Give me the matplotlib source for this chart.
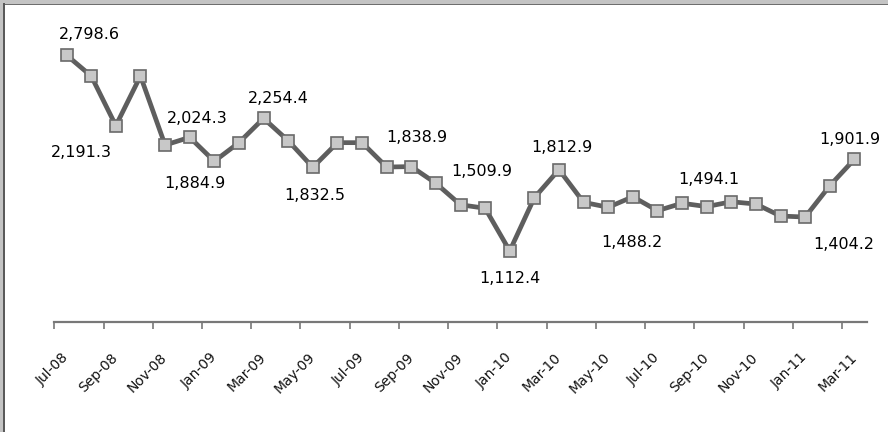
import numpy as np
import matplotlib
matplotlib.use("Agg")
import matplotlib.pyplot as plt
from matplotlib.patches import Rectangle

# ---- data ----
months = ["Jul-08", "Aug-08", "Sep-08", "Oct-08", "Nov-08", "Dec-08",
          "Jan-09", "Feb-09", "Mar-09", "Apr-09", "May-09", "Jun-09",
          "Jul-09", "Aug-09", "Sep-09", "Oct-09", "Nov-09", "Dec-09",
          "Jan-10", "Feb-10", "Mar-10", "Apr-10", "May-10", "Jun-10",
          "Jul-10", "Aug-10", "Sep-10", "Oct-10", "Nov-10", "Dec-10",
          "Jan-11", "Feb-11", "Mar-11"]
values = [2798.6, 2619.0, 2191.3, 2619.0, 2024.3, 2091.0,
          1884.9, 2045.0, 2254.4, 2062.0, 1832.5, 2045.0,
          2045.0, 1835.0, 1838.9, 1695.0, 1509.9, 1480.0,
          1112.4, 1571.0, 1812.9, 1531.0, 1488.2, 1579.0,
          1459.0, 1523.0, 1494.1, 1536.0, 1516.0, 1413.0,
          1404.2, 1674.0, 1901.9]
tick_labels = months[::2]
labeled_idx = [0, 2, 4, 6, 8, 10, 14, 16, 18, 20, 22, 26, 30, 32]

# label offsets in pixels (dx right, dy down) relative to the point
label_offsets = [(23, -21), (-34, 27), (32, -27), (-19, 22), (15, -20),
                 (2, 28), (6, -29), (21, -33), (0, 28), (3, -22),
                 (24, 35), (2, -27), (39, 27), (-5, -20)]

W, H = 888, 432
fig = plt.figure(figsize=(W / 100, H / 100), dpi=100)
fig.patch.set_facecolor("white")

ax_left, ax_right = 54.3, 866.7
ax_bottom, ax_top = 322.0, 31.8
ax = fig.add_axes([ax_left / W, (H - ax_bottom) / H,
                   (ax_right - ax_left) / W, (ax_bottom - ax_top) / H])

x = np.arange(len(values)) + 0.5
ax.plot(x, values, color="#5e5e5e", lw=3.4, marker="s", markersize=8,
        markerfacecolor="#c8c8c8", markeredgecolor="#6a6a6a",
        markeredgewidth=1.2, zorder=3, clip_on=False)

ax.set_xlim(0, len(values))
ax.set_ylim(500, 3000)

for s in ["left", "right", "top"]:
    ax.spines[s].set_visible(False)
ax.spines["bottom"].set_color("#787878")
ax.spines["bottom"].set_linewidth(1.6)

ax.set_yticks([])
ax.set_xticks(np.arange(0, len(values), 2) + 0.5)
ax.set_xticklabels(tick_labels)
ax.set_xticks(np.arange(0, len(values), 2), minor=True)
ax.tick_params(axis="x", which="major", length=0, pad=24,
               labelsize=10, labelcolor="#111111")
ax.tick_params(axis="x", which="minor", length=5, width=1.2,
               color="#787878", direction="out")
for lbl in ax.get_xticklabels():
    lbl.set_rotation(45)
    lbl.set_ha("right")
    lbl.set_va("center")
    lbl.set_rotation_mode("anchor")

for i, (dx, dy) in zip(labeled_idx, label_offsets):
    ax.annotate(f"{values[i]:,.1f}", (x[i], values[i]),
                xytext=(dx * 0.72, -dy * 0.72), textcoords="offset points",
                ha="center", va="center", fontsize=11.5, color="#000000")

# frame fragments (top and left border)
fig.add_artist(Rectangle((0, 1 - 5 / H), 1, 5 / H, transform=fig.transFigure,
                         facecolor="#c4c4c4", edgecolor="none"))
fig.add_artist(Rectangle((0, 1 - 5 / H), 1, 1.5 / H, transform=fig.transFigure,
                         facecolor="#6e6e6e", edgecolor="none"))
fig.add_artist(Rectangle((0, 0), 3 / W, 1, transform=fig.transFigure,
                         facecolor="#c4c4c4", edgecolor="none"))
fig.add_artist(Rectangle((3 / W, 0), 2 / W, 1 - 3 / H, transform=fig.transFigure,
                         facecolor="#5a5a5a", edgecolor="none"))

fig.savefig("out.png", dpi=100)
